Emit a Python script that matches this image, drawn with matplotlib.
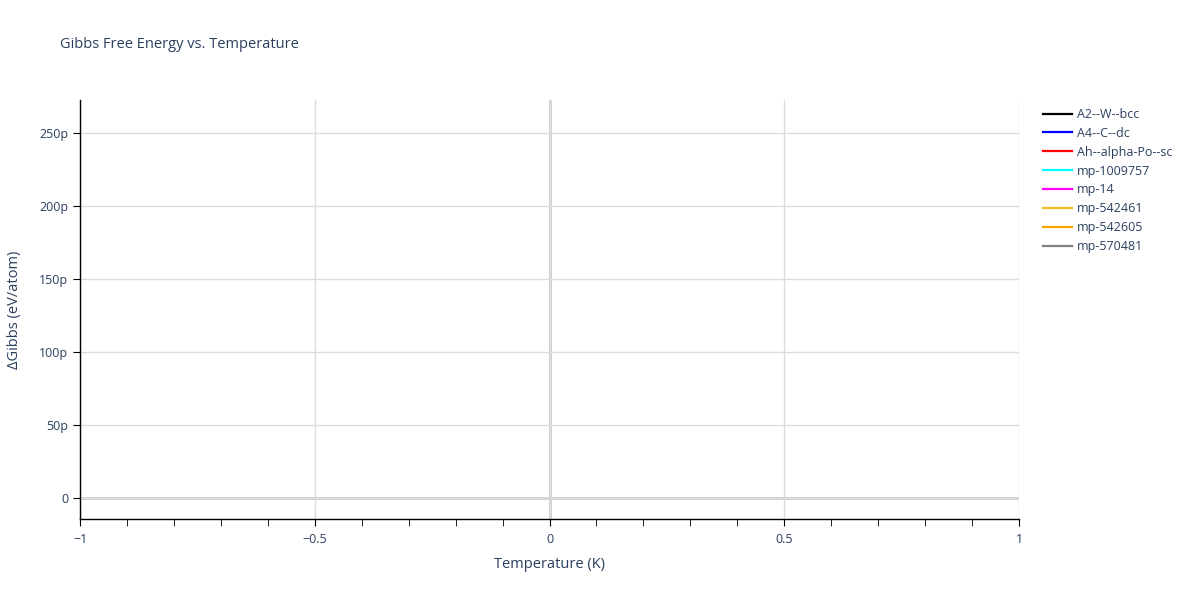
import matplotlib
matplotlib.use("Agg")
import matplotlib.pyplot as plt
from matplotlib.ticker import FuncFormatter, MultipleLocator
from matplotlib.lines import Line2D

# series names and colours
names = ["A2--W--bcc", "A4--C--dc", "Ah--alpha-Po--sc", "mp-1009757",
         "mp-14", "mp-542461", "mp-542605", "mp-570481"]
colors = ["black", "blue", "red", "cyan", "magenta", "#f0c020", "orange", "gray"]

# each series holds a single point at T = 0 K, dG = 0
temps = [0.0]
gibbs = [0.0]

x_ticks = [-1, -0.5, 0, 0.5, 1]
y_ticks = [0, 50e-12, 100e-12, 150e-12, 200e-12, 250e-12]

txt = "#2a3f5f"
plt.rcParams["font.family"] = ["Open Sans", "DejaVu Sans"]

fig = plt.figure(figsize=(12, 6), dpi=100)
ax = fig.add_axes([80 / 1200, 81 / 600, 939 / 1200, 419 / 600])

for n, c in zip(names, colors):
    ax.plot(temps, gibbs, color=c, lw=2, label=n)

ax.set_xlim(-1, 1)
ax.set_ylim(-14.4e-12, 272.6e-12)
ax.set_xticks(x_ticks)
ax.set_yticks(y_ticks)
ax.xaxis.set_minor_locator(MultipleLocator(0.1))


def fx(v, pos):
    s = "%g" % v
    return s.replace("-", "\u2212")


def fy(v, pos):
    p = round(v * 1e12)
    return "0" if p == 0 else "%dp" % p


ax.xaxis.set_major_formatter(FuncFormatter(fx))
ax.yaxis.set_major_formatter(FuncFormatter(fy))

ax.grid(True, color="#dcdcdc", lw=1)
ax.set_axisbelow(True)
ax.axhline(0, color="#cccccc", lw=2, zorder=0.5)
ax.axvline(0, color="#cccccc", lw=2, zorder=0.5)

for s in ["top", "right"]:
    ax.spines[s].set_visible(False)
for s in ["left", "bottom"]:
    ax.spines[s].set_color("black")
    ax.spines[s].set_linewidth(1)

ax.tick_params(axis="both", which="major", direction="out", length=5,
               color="black", labelcolor=txt, labelsize=9)
ax.tick_params(axis="x", which="minor", direction="out", length=5, color="black")
ax.tick_params(axis="x", pad=5)

ax.set_xlabel("Temperature (K)", color=txt, fontsize=10.5, labelpad=8)
ax.set_ylabel("\u0394Gibbs (eV/atom)", color=txt, fontsize=10.5, labelpad=12)

fig.text(60 / 1200, 1 - 45 / 600, "Gibbs Free Energy vs. Temperature",
         color=txt, fontsize=10.5, va="center")

handles = [Line2D([0], [0], color=c, lw=1.6) for c in colors]
leg = fig.legend(handles, names, loc="upper left", bbox_to_anchor=(1043 / 1200, 1 - 108 / 600),
                 frameon=False, fontsize=9, handlelength=2.3, handletextpad=0.4,
                 labelspacing=0.47, borderaxespad=0, borderpad=0)
for t in leg.get_texts():
    t.set_color(txt)

fig.savefig("out.png", dpi=100)
